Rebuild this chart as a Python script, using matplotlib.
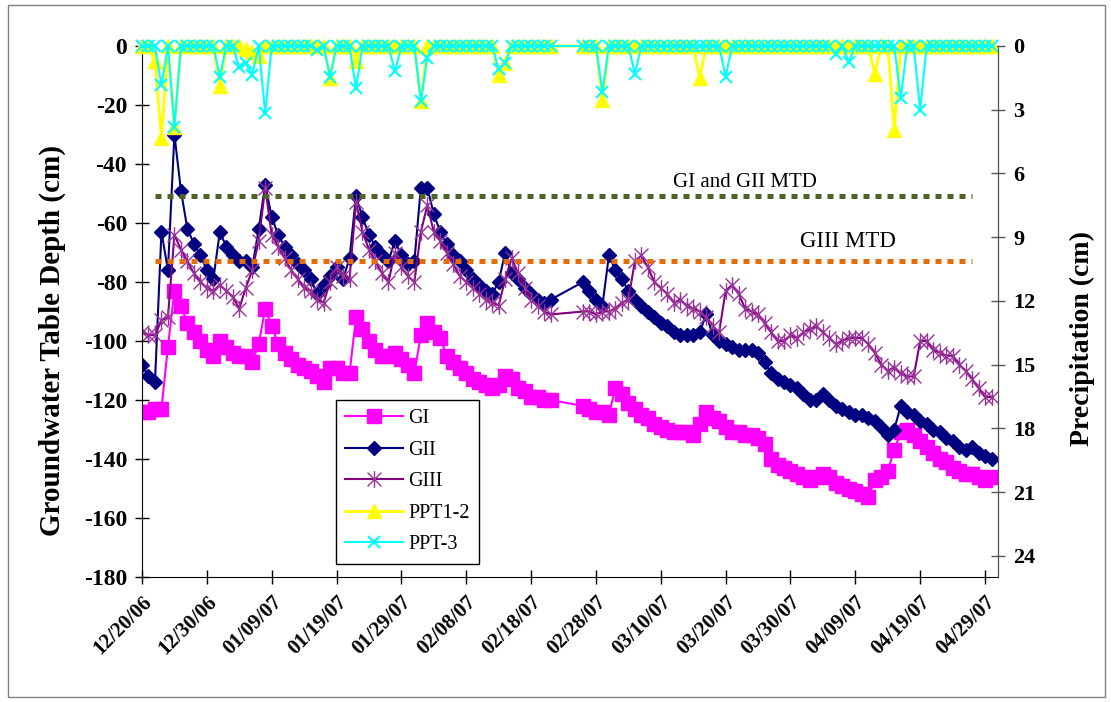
import numpy as np
import pandas as pd
import matplotlib
matplotlib.use("Agg")
import matplotlib.pyplot as plt
import matplotlib.dates as mdates
from matplotlib.path import Path
from matplotlib.patches import Rectangle

plt.rcParams['font.family'] = ['Liberation Serif', 'DejaVu Serif']
plt.rcParams['axes.unicode_minus'] = False

# daily readings, nothing recorded 02/22 - 02/25
dates = pd.date_range("2006-12-20", "2007-02-21").append(
    pd.date_range("2007-02-26", "2007-04-30"))

# groundwater table depth (cm)
gi = [-124, -124, -123, -123, -102, -83, -88, -94, -97, -100,
      -103, -105, -100, -102, -104, -105, -105, -107, -101, -89,
      -95, -101, -104, -106, -108, -109, -110, -112, -114, -109,
      -109, -111, -111, -92, -96, -100, -103, -105, -105, -104,
      -106, -108, -111, -98, -94, -97, -99, -105, -107, -109,
      -111, -113, -114, -115, -116, -115, -112, -113, -116, -117,
      -119, -119, -120, -120,
      -122, -123, -124, -124, -125, -116, -118, -121, -123, -125,
      -126, -128, -129, -130, -131, -131, -131, -132, -128, -124,
      -126, -127, -129, -131, -131, -132, -132, -133, -135, -140,
      -142, -143, -144, -145, -146, -147, -146, -145, -146, -148,
      -149, -150, -151, -152, -153, -147, -146, -144, -137, -131,
      -130, -132, -134, -136, -138, -140, -141, -143, -144, -145,
      -145, -146, -147, -146]

gii = [-108, -112, -114, -63, -76, -30, -49, -62, -67, -71,
       -76, -79, -63, -68, -71, -73, -73, -75, -62, -47,
       -58, -64, -68, -71, -74, -76, -79, -84, -81, -78,
       -75, -79, -72, -51, -58, -64, -68, -71, -73, -66,
       -71, -74, -73, -48, -48, -57, -63, -67, -71, -73,
       -76, -79, -81, -83, -84, -80, -70, -77, -79, -82,
       -84, -86, -87, -86,
       -80, -83, -86, -88, -71, -76, -79, -83, -86, -88,
       -90, -92, -94, -95, -97, -98, -98, -98, -97, -91,
       -98, -100, -101, -102, -103, -103, -103, -104, -107, -111,
       -113, -114, -115, -116, -118, -120, -120, -118, -120, -122,
       -123, -124, -125, -125, -126, -127, -129, -132, -130, -122,
       -124, -125, -127, -128, -130, -131, -133, -134, -136, -137,
       -136, -138, -139, -140]

giii = [-97, -98, -98, -93, -92, -64, -69, -73, -77, -80,
        -82, -83, -81, -83, -85, -89, -82, -76, -66, -48,
        -64, -68, -72, -76, -79, -82, -83, -86, -87, -80,
        -75, -78, -79, -53, -63, -69, -73, -77, -80, -70,
        -75, -78, -80, -63, -54, -63, -66, -70, -74, -78,
        -80, -82, -84, -86, -87, -88, -79, -72, -77, -82,
        -86, -88, -90, -91,
        -90, -90, -91, -90, -90, -89, -87, -86, -73, -71,
        -75, -80, -82, -84, -87, -86, -88, -89, -90, -92,
        -95, -97, -83, -81, -84, -89, -90, -91, -94, -97,
        -100, -100, -98, -99, -97, -96, -95, -97, -99, -101,
        -100, -99, -99, -99, -101, -104, -108, -110, -109, -111,
        -112, -112, -100, -100, -103, -104, -105, -105, -108, -110,
        -113, -116, -119, -119]

# precipitation (cm)
ppt12 = [0, 0, 0.7, 4.35, 0, 3.8, 0, 0, 0, 0,
         0, 0, 1.9, 0, 0, 0, 0.15, 0.3, 0.45, 0,
         0, 0, 0, 0, 0, 0, 0, 0, 0, 1.5,
         0, 0, 0, 0.7, 0, 0, 0, 0, 0, 0,
         0, 0, 0, 2.6, 0, 0, 0, 0, 0, 0,
         0, 0, 0, 0, 0, 1.35, 0.8, 0, 0, 0,
         0, 0, 0, 0,
         0, 0, 0, 2.55, 0, 0, 0, 0, 0, 0,
         0, 0, 0, 0, 0, 0, 0, 0, 1.5, 0,
         0, 0, 0, 0, 0, 0, 0, 0, 0, 0,
         0, 0, 0, 0, 0, 0, 0, 0, 0, 0,
         0, 0, 0, 0, 0, 1.3, 0, 0, 3.95, 0,
         0, 0, 0, 0, 0, 0, 0, 0, 0, 0,
         0, 0, 0, 0]

ppt3 = [0, 0, 0, 1.85, 0, 3.8, 0, 0, 0, 0,
        0, 0, 1.45, 0, 0, 1.0, 0.8, 1.35, 0, 3.15,
        0, 0, 0, 0, 0, 0, 0, 0.2, 0, 1.45,
        0, 0, 0, 2.0, 0, 0, 0, 0, 0, 1.2,
        0, 0, 0, 2.6, 0.55, 0, 0, 0, 0, 0,
        0, 0, 0, 0, 0, 1.1, 0.8, 0, 0, 0,
        0, 0, 0, 0,
        0, 0, 0, 2.15, 0, 0, 0, 0, 1.3, 0,
        0, 0, 0, 0, 0, 0, 0, 0, 0, 0,
        0, 0, 1.45, 0, 0, 0, 0, 0, 0, 0,
        0, 0, 0, 0, 0, 0, 0, 0, 0, 0.4,
        0, 0.75, 0, 0, 0, 0, 0, 0, 0, 2.45,
        0, 0, 3.0, 0, 0, 0, 0, 0, 0, 0,
        0, 0, 0, 0]

# minimum tolerable depth lines
mtd_dates = [pd.Timestamp("2006-12-22"), pd.Timestamp("2007-04-27")]
gi_gii_mtd = -50.7
giii_mtd = -73.0

W, H = 1111, 702
fig = plt.figure(figsize=(W / 100, H / 100), dpi=100)
fig.patches.append(Rectangle((8 / W, 5 / H), 1097 / W, 692 / H, transform=fig.transFigure,
                             fill=False, edgecolor='#808080', lw=1))

ax = fig.add_axes([142 / W, (H - 577) / H, (998 - 142) / W, (577 - 46) / H])
ax2 = ax.twinx()

asterisk = Path([(-1, -1), (1, 1), (1, -1), (-1, 1), (0, -1.2), (0, 1.2)],
                [Path.MOVETO, Path.LINETO, Path.MOVETO, Path.LINETO, Path.MOVETO, Path.LINETO])

l1, = ax.plot(dates, gi, color='#FF00FF', lw=1.5, marker='s', ms=9.5, mec='#FF00FF', label='GI')
l2, = ax.plot(dates, gii, color='#000080', lw=1.5, marker='D', ms=7.5, mec='#000080', label='GII')
l3, = ax.plot(dates, giii, color='#800080', lw=1.5, marker=asterisk, ms=12, mew=1,
              mec='#993399', mfc='none', label='GIII')

ax.plot(mtd_dates, [gi_gii_mtd] * 2, color='#4F6228', lw=3.6,
        linestyle=(0, (1.2, 1.2)), dash_capstyle='butt')
ax.plot(mtd_dates, [giii_mtd] * 2, color='#E46C0A', lw=3.6,
        linestyle=(0, (1.2, 1.2)), dash_capstyle='butt')

l4, = ax2.plot(dates, ppt12, color='#FFFF00', lw=2, marker='^', ms=9.5, mec='#FFFF00',
               label='PPT1-2', clip_on=False)
l5, = ax2.plot(dates, ppt3, color='#00FFFF', lw=1.5, marker='x', ms=9, mew=1.5,
               label='PPT-3', clip_on=False)

ax.set_xlim(pd.Timestamp("2006-12-20"), pd.Timestamp("2007-05-01"))
ax.set_ylim(-180, 0)
ax.set_yticks(np.arange(-180, 1, 20))
ax2.set_ylim(25, 0)
ax2.set_yticks(np.arange(0, 25, 3))

ticks = pd.date_range("2006-12-20", "2007-04-29", freq="10D")
ax.set_xticks(ticks)
ax.xaxis.set_major_formatter(mdates.DateFormatter("%m/%d/%y"))
for lab in ax.get_xticklabels():
    lab.set_rotation(45)
    lab.set_ha('right')
    lab.set_va('top')
    lab.set_rotation_mode('anchor')
    lab.set_fontweight('bold')
    lab.set_fontsize(15)

ax.tick_params(axis='both', direction='inout', length=9.5, width=1, pad=6)
ax.tick_params(axis='y', labelsize=17)
for lab in ax.get_yticklabels():
    lab.set_fontweight('bold')
ax2.tick_params(axis='y', direction='inout', length=9.5, width=1, color='#555555',
                labelsize=16, pad=6)
for lab in ax2.get_yticklabels():
    lab.set_fontweight('bold')

for a in (ax, ax2):
    a.spines['top'].set_visible(False)
    a.set_facecolor('none')
ax2.spines['right'].set_color('#555555')
ax2.spines['left'].set_visible(False)
ax2.spines['bottom'].set_visible(False)

fig.text(52 / W, (H - 340) / H, "Groundwater Table Depth (cm)", rotation=90,
         ha='center', va='center', fontsize=21, fontweight='bold')
fig.text(1082 / W, (H - 339) / H, "Precipitation (cm)", rotation=90,
         ha='center', va='center', fontsize=20, fontweight='bold')

ax.text(0.704, 0.735, "GI and GII MTD", transform=ax.transAxes, ha='center',
        va='baseline', fontsize=15)
ax.text(0.825, 0.622, "GIII MTD", transform=ax.transAxes, ha='center',
        va='baseline', fontsize=16.5)

leg = ax2.legend(handles=[l1, l2, l3, l4, l5], loc='upper left',
                 bbox_to_anchor=(336 / W, (H - 400) / H), bbox_transform=fig.transFigure,
                 fontsize=14.5, frameon=True, fancybox=False, edgecolor='black',
                 framealpha=1, handlelength=2.9, handletextpad=0.25,
                 labelspacing=0.62, borderpad=0.45, borderaxespad=0)
leg.get_frame().set_linewidth(1)

fig.savefig("out.png", dpi=100)
